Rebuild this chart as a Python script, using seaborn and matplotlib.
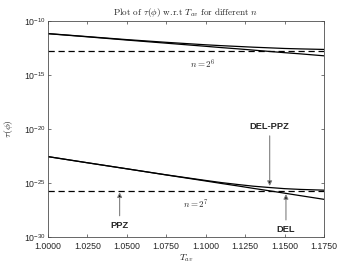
import numpy as np
import matplotlib
matplotlib.use("Agg")
import matplotlib.pyplot as plt
import seaborn as sns
from matplotlib.ticker import NullLocator, FixedLocator, FixedFormatter

# ------------------------------------------------------------
# data (log10 of tau)
# ------------------------------------------------------------
T_av = [1.0, 1.025, 1.05, 1.075, 1.1, 1.11, 1.12, 1.13, 1.14, 1.15, 1.16, 1.175]

del_n6    = [-11.20, -11.49, -11.79, -12.08, -12.37, -12.49, -12.60, -12.72, -12.84, -12.96, -13.07, -13.25]
delppz_n6 = [-11.19, -11.47, -11.75, -12.00, -12.23, -12.31, -12.38, -12.45, -12.51, -12.57, -12.61, -12.66]
ppz_n6 = -12.79

del_n7    = [-22.58, -23.15, -23.71, -24.28, -24.84, -25.07, -25.29, -25.52, -25.74, -25.97, -26.20, -26.54]
delppz_n7 = [-22.58, -23.15, -23.71, -24.27, -24.79, -24.99, -25.16, -25.32, -25.44, -25.55, -25.62, -25.69]
ppz_n7 = -25.75

x_ticks = [1.0, 1.025, 1.05, 1.075, 1.1, 1.125, 1.15, 1.175]
x_labels = ["1.0000", "1.0250", "1.0500", "1.0750", "1.1000", "1.1250", "1.1500", "1.1750"]
y_ticks = [1e-30, 1e-25, 1e-20, 1e-15, 1e-10]

# ------------------------------------------------------------
# style
# ------------------------------------------------------------
sns.set_style("ticks", {"xtick.direction": "in", "ytick.direction": "in"})
plt.rcParams["font.family"] = ["Liberation Sans", "DejaVu Sans"]
plt.rcParams["mathtext.fontset"] = "stixsans"

fig = plt.figure(figsize=(3.59, 2.69), dpi=100)
ax = fig.add_axes([0.133, 0.12, 0.770, 0.803])

# solid curves (DEL and DEL-PPZ for both n)
for vals in [del_n6, delppz_n6, del_n7, delppz_n7]:
    sns.lineplot(x=T_av, y=10.0 ** np.array(vals), color="k", lw=0.9, ax=ax)

# dashed PPZ levels
for lvl in [ppz_n6, ppz_n7]:
    sns.lineplot(x=[T_av[0], T_av[-1]], y=[10.0 ** lvl] * 2, color="k", lw=0.9,
                 dashes=(5, 3), ax=ax)

ax.set_yscale("log")
ax.set_xlim(1.0, 1.175)
ax.set_ylim(1e-30, 1e-10)
ax.yaxis.set_major_locator(FixedLocator(y_ticks))
ax.yaxis.set_minor_locator(NullLocator())
ax.xaxis.set_major_locator(FixedLocator(x_ticks))
ax.xaxis.set_major_formatter(FixedFormatter(x_labels))

ax.tick_params(which="both", direction="in", top=True, right=True, length=2.5,
               width=0.5, labelsize=6.3, color="0.25")
ax.tick_params(axis="x", pad=4)
ax.tick_params(axis="y", pad=1.5)
for sp in ax.spines.values():
    sp.set_linewidth(0.6)
    sp.set_color("0.3")

ax.set_title(r"Plot of $\tau(\phi)$ w.r.t $T_{av}$ for different $n$",
             fontfamily="cmr10", math_fontfamily="cm", fontsize=6.6, pad=4)
ax.set_xlabel(r"$T_{av}$", math_fontfamily="cm", fontsize=7, labelpad=1)
ax.set_ylabel(r"$\tau(\phi)$", math_fontfamily="cm", fontsize=7, labelpad=6)

# level labels
ax.text(1.090, 10 ** -14.08, r"$n = 2^6$", math_fontfamily="cm", fontsize=6.5, va="center")
ax.text(1.0856, 10 ** -27.03, r"$n = 2^7$", math_fontfamily="cm", fontsize=6.5, va="center")

# arrows
arrow = dict(arrowstyle="-|>", ec="0.5", fc="k", lw=0.8, mutation_scale=7,
             shrinkA=1.5, shrinkB=0)
ax.annotate("DEL-PPZ", xy=(1.1405, 10 ** -25.3), xytext=(1.1405, 10 ** -19.75),
            ha="center", va="center", fontsize=6.7, fontweight="bold", arrowprops=arrow)
ax.annotate("DEL", xy=(1.1508, 10 ** -26.05), xytext=(1.1508, 10 ** -29.36),
            ha="center", va="center", fontsize=6.7, fontweight="bold", arrowprops=arrow)
ax.annotate("PPZ", xy=(1.0455, 10 ** -25.89), xytext=(1.0455, 10 ** -28.97),
            ha="center", va="center", fontsize=6.7, fontweight="bold", arrowprops=arrow)

fig.savefig("out.png", dpi=100)
